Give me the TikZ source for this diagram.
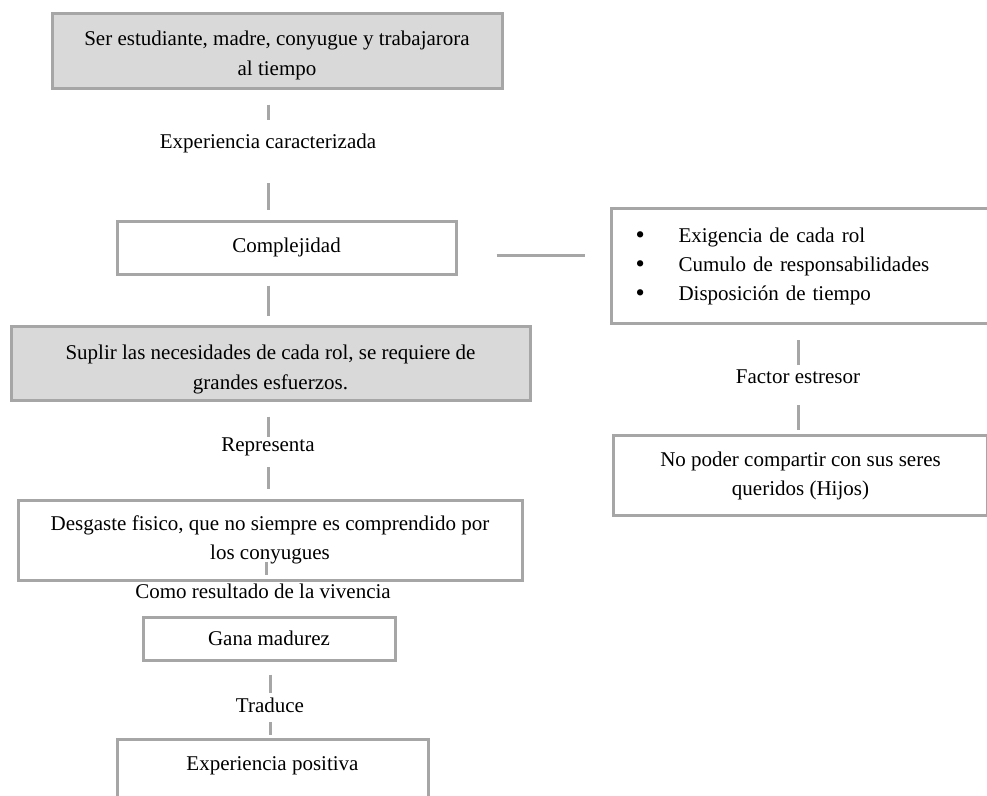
\documentclass[tikz,border=0pt]{standalone}
\usepackage{fontspec}
\setmainfont{Liberation Serif}
\definecolor{boxline}{RGB}{166,166,166}
\definecolor{boxfill}{RGB}{217,217,217}
\tikzset{
  box/.style={draw=boxline, line width=3pt, fill=white, align=center, inner sep=0pt},
  graybox/.style={box, fill=boxfill},
  lbl/.style={inner sep=0pt, text height=15pt, text depth=5pt},
  conn/.style={draw=boxline, line width=3pt},
}
\newcommand{\bulitem}{\makebox[43pt][l]{\raisebox{-1.5pt}{\scalebox{1.25}{\textbullet}}}}
\begin{document}
\begin{tikzpicture}[x=1pt, y=-1pt, font=\fontsize{21}{29}\selectfont]
\useasboundingbox (0,0) rectangle (987,795);
\clip (0,0) rectangle (987,795);
\fill[white] (0,0) rectangle (987,795);

% left column
\node[graybox, minimum width=450pt, minimum height=75pt] (top) at (277,50.5)
  {\rule{0pt}{25pt}Ser estudiante, madre, conyugue y trabajarora\\[1pt]al tiempo};
\node[lbl] (l1) at (268,143) {Experiencia caracterizada};
\node[box, minimum width=339pt, minimum height=53pt] (comp) at (286.5,247.5) {Complejidad};
\node[graybox, minimum width=519pt, minimum height=74pt] (supl) at (270.5,363)
  {\rule{0pt}{27pt}Suplir las necesidades de cada rol, se requiere de\\[1pt]grandes esfuerzos.};
\node[lbl] (l2) at (268,446) {Representa};
\node[box, minimum width=504pt, minimum height=80pt] (desg) at (270,540)
  {Desgaste fisico, que no siempre es comprendido por\\los conyugues};
\node[lbl] (l3) at (263,593) {Como resultado de la vivencia};
\node[box, minimum width=252pt, minimum height=43pt] (gana) at (269,638.5) {Gana madurez};
\node[lbl] (l4) at (270,707) {Traduce};
\node[box, minimum width=311pt, inner ysep=16pt, text height=15pt, text depth=70pt, anchor=north] (expo) at (272.5,738) {Experiencia positiva};

% right column
\node[box, minimum width=385pt, minimum height=115pt, align=left, text width=337pt, inner xsep=24pt, anchor=north west] (bul) at (610,207)
  {\bulitem Exigencia de cada rol\\
   \bulitem Cumulo de responsabilidades\\
   \bulitem Disposición de tiempo};
\node[lbl] (l5) at (798,378) {Factor estresor};
\node[box, minimum width=374pt, minimum height=80pt, anchor=north west] (nop) at (612,434)
  {No poder compartir con sus seres\\queridos (Hijos)};

% connectors
\draw[conn, shorten <=15pt, shorten >=13pt] (top.south -| l1.north) -- (l1.north);
\draw[conn, shorten <=30pt, shorten >=10pt] (l1.south) -- (l1.south |- comp.north);
\draw[conn, shorten <=10pt, shorten >=9pt] (l1.south |- comp.south) -- (l1.south |- supl.north);
\draw[conn, shorten <=15pt, shorten >=-1pt] (l2.north |- supl.south) -- (l2.north);
\draw[conn, shorten <=11pt, shorten >=10pt] (l2.south) -- (l2.south |- desg.north);
\draw[conn] ([xshift=-4pt,yshift=20pt]desg.south) -- ([xshift=-4pt,yshift=7pt]desg.south);
\draw[conn, shorten <=13pt, shorten >=4pt] (gana.south -| l4.north) -- (l4.north);
\draw[conn, shorten <=5pt, shorten >=3pt] (l4.south) -- (l4.south |- expo.north);
\draw[conn, shorten <=39pt, shorten >=25pt] ([yshift=-7.5pt]comp.east) -- ([yshift=-7.5pt]comp.east -| bul.west);
\draw[conn, shorten <=15pt, shorten >=3pt] (bul.south -| l5.north) -- (l5.north);
\draw[conn, shorten <=17pt, shorten >=4pt] (l5.south) -- (l5.south |- nop.north);
\end{tikzpicture}
\end{document}
